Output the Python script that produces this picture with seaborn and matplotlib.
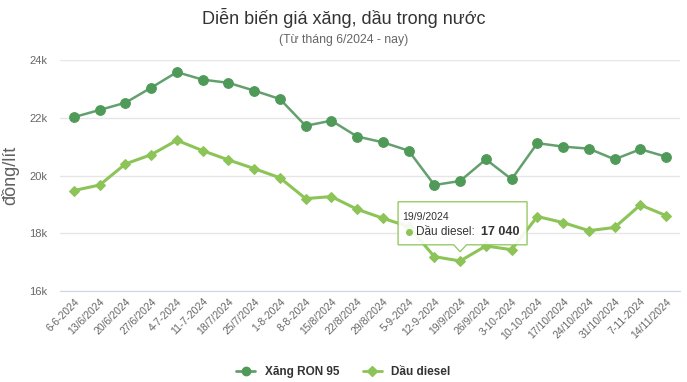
import numpy as np
import pandas as pd
import matplotlib
matplotlib.use("Agg")
import matplotlib.pyplot as plt
from matplotlib.patches import Polygon
from matplotlib.lines import Line2D
import seaborn as sns

# data (dong/litre)
dates = ["6-6-2024", "13/6/2024", "20/6/2024", "27/6/2024", "4-7-2024", "11-7-2024",
         "18/7/2024", "25/7/2024", "1-8-2024", "8-8-2024", "15/8/2024", "22/8/2024",
         "29/8/2024", "5-9-2024", "12-9-2024", "19/9/2024", "26/9/2024", "3-10-2024",
         "10-10-2024", "17/10/2024", "24/10/2024", "31/10/2024", "7-11-2024", "14/11/2024"]
ron95 = [22020, 22270, 22520, 23040, 23580, 23320, 23210, 22940, 22650, 21720, 21900, 21350,
         21150, 20860, 19670, 19810, 20560, 19870, 21120, 21000, 20930, 20560, 20910, 20650]
diesel = [19480, 19670, 20400, 20720, 21220, 20860, 20540, 20240, 19920, 19200, 19270, 18830,
          18520, 18230, 17190, 17040, 17560, 17430, 18580, 18370, 18090, 18200, 18980, 18610]
series_names = ["Xăng RON 95", "Dầu diesel"]
colors = ["#4f9a58", "#8cc457"]
line_colors = ["#64a06e", "#8cc457"]

df = pd.DataFrame({"idx": range(len(dates)), "date": dates,
                   series_names[0]: ron95, series_names[1]: diesel})

sns.set_style("white")
plt.rcParams["font.family"] = ["Liberation Sans", "DejaVu Sans"]

fig = plt.figure(figsize=(6.87, 3.82), dpi=100)
ax = fig.add_axes([60 / 687, 1 - 291 / 382, 620 / 687, 231 / 382])

sns.lineplot(data=df, x="idx", y=series_names[0], ax=ax, color=line_colors[0], linewidth=1.8,
             marker="o", markersize=7, markerfacecolor=colors[0], markeredgecolor=colors[0])
sns.lineplot(data=df, x="idx", y=series_names[1], ax=ax, color=line_colors[1], linewidth=2.2,
             marker="D", markersize=5, markerfacecolor=colors[1], markeredgecolor=colors[1])

ax.set_xlim(-0.54, len(dates) - 1 + 0.54)
ax.set_ylim(16000, 24000)
ax.set_yticks([16000, 18000, 20000, 22000, 24000])
ax.set_yticklabels(["16k", "18k", "20k", "22k", "24k"], color="#666666", fontsize=8)
ax.set_xticks(range(len(dates)))
ax.set_xticklabels(dates, rotation=45, ha="right", rotation_mode="anchor",
                   color="#666666", fontsize=7.5)
ax.tick_params(axis="y", length=0, pad=9)
ax.tick_params(axis="x", length=0, pad=4)
ax.grid(axis="y", color="#e6e6e6", linewidth=1)
for s in ax.spines.values():
    s.set_visible(False)
ax.spines["bottom"].set_visible(True)
ax.spines["bottom"].set_color("#ccd6eb")
ax.set_xlabel("")
ax.set_ylabel("đồng/lít", fontsize=13, color="#606060", labelpad=7)

fig.text(0.5, 1 - 18 / 382, "Diễn biến giá xăng, dầu trong nước", ha="center", va="center",
         fontsize=13, color="#333333")
fig.text(0.5, 1 - 40 / 382, "(Từ tháng 6/2024 - nay)", ha="center", va="center",
         fontsize=8.8, color="#666666")

# tooltip for 19/9/2024 diesel point
tip_i = dates.index("19/9/2024")
tip_v = diesel[tip_i]
box = Polygon([(12.59, 19090), (17.6, 19090), (17.6, 17600), (tip_i + 0.25, 17600),
               (tip_i, 17360), (tip_i - 0.25, 17600), (12.59, 17600)],
              closed=True, facecolor="white", edgecolor=colors[1], linewidth=1,
              alpha=0.9, zorder=5)
ax.add_patch(box)
ax.text(12.74, 18570, "19/9/2024", fontsize=7.5, color="#333333", va="center", zorder=6)
ax.plot([13.0], [18050], marker="o", markersize=4, color=colors[1], zorder=6)
ax.text(13.3, 18050, "Dầu diesel:", fontsize=8.5, color="#333333", va="center", zorder=6)
ax.text(15.8, 18050, f"{tip_v:,}".replace(",", " "), fontsize=9, color="#333333",
        fontweight="bold", va="center", zorder=6)

handles = [Line2D([0], [0], color=line_colors[0], linewidth=2, marker="o", markersize=6,
                  markerfacecolor=colors[0], markeredgecolor=colors[0]),
           Line2D([0], [0], color=line_colors[1], linewidth=2, marker="D", markersize=5,
                  markerfacecolor=colors[1], markeredgecolor=colors[1])]
fig.legend(handles, series_names, loc="center", bbox_to_anchor=(0.5, 1 - 372 / 382), ncol=2,
           frameon=False, handlelength=1.6, columnspacing=2,
           prop={"weight": "bold", "size": 8.5})
for t in fig.legends[0].get_texts():
    t.set_color("#333333")

fig.savefig("out.png", dpi=100)
